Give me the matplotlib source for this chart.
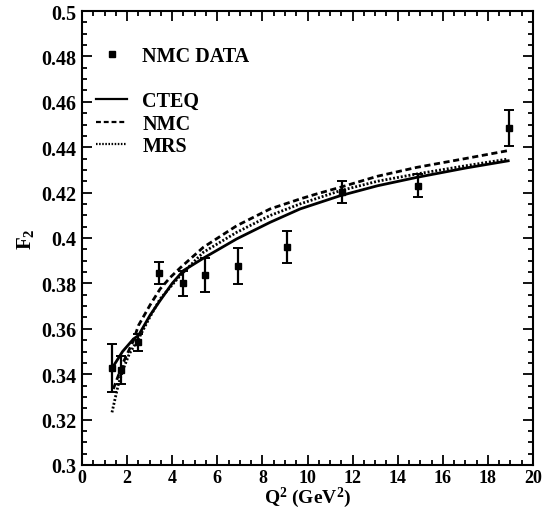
import matplotlib
matplotlib.use("Agg")
import matplotlib.pyplot as plt
from matplotlib.lines import Line2D
from matplotlib.ticker import MultipleLocator

plt.rcParams['font.family'] = ['Liberation Serif', 'DejaVu Serif']
plt.rcParams['font.weight'] = 'bold'
plt.rcParams['mathtext.fontset'] = 'custom'
plt.rcParams['mathtext.rm'] = 'Liberation Serif:bold'
plt.rcParams['mathtext.it'] = 'Liberation Serif:bold'
plt.rcParams['mathtext.bf'] = 'Liberation Serif:bold'

# NMC data
q2_data = [1.33, 1.73, 2.50, 3.43, 4.46, 5.45, 6.90, 9.08, 11.52, 14.92, 18.94]
f2_data = [0.3426, 0.3418, 0.3540, 0.3846, 0.3800, 0.3838, 0.3877, 0.3959, 0.4201, 0.4231, 0.4483]
f2_err = [0.0105, 0.0060, 0.0036, 0.0050, 0.0056, 0.0075, 0.0078, 0.0070, 0.0048, 0.0050, 0.0079]

# Theory curves
q2_cteq = [1.33, 1.8, 2.28, 2.5, 3.02, 3.46, 4.0, 4.49, 5.45, 6.86, 8.34, 9.67, 11.44, 13.1, 14.84, 17.0, 18.9]
f2_cteq = [0.3426, 0.3500, 0.3555, 0.3570, 0.3660, 0.3724, 0.3800, 0.3856, 0.3915, 0.3996, 0.4069, 0.4128, 0.4186, 0.4230, 0.4267, 0.4308, 0.4340]

q2_nmc = [1.39, 1.83, 2.28, 2.5, 3.02, 3.46, 3.9, 4.35, 5.38, 6.86, 8.34, 9.67, 10.4, 11.44, 13.1, 14.84, 17.0, 18.9]
f2_nmc = [0.3335, 0.3452, 0.3548, 0.3614, 0.3705, 0.3775, 0.3825, 0.3868, 0.3959, 0.4054, 0.4128, 0.4172, 0.4194, 0.4223, 0.4272, 0.4311, 0.4350, 0.4385]

q2_mrs = [1.33, 1.6, 1.83, 2.1, 2.5, 3.0, 3.46, 4.35, 5.38, 6.86, 8.34, 9.67, 11.44, 13.1, 14.84, 17.0, 18.9]
f2_mrs = [0.3232, 0.3350, 0.3423, 0.3490, 0.3555, 0.3650, 0.3731, 0.3834, 0.3937, 0.4025, 0.4099, 0.4150, 0.4208, 0.4250, 0.4282, 0.4318, 0.4348]

fig = plt.figure(figsize=(5.52, 5.10), dpi=100)
ax = fig.add_axes([82/552, 44/510, 451/552, 454/510])

ax.plot(q2_cteq, f2_cteq, color='black', lw=2.0, ls='-')
ax.plot(q2_nmc, f2_nmc, color='black', lw=2.0, ls=(0, (2.2, 1.3)))
ax.plot(q2_mrs, f2_mrs, color='black', lw=2.0, ls=(0, (0.7, 0.7)))
ax.errorbar(q2_data, f2_data, yerr=f2_err, fmt='s', color='black', ms=5,
            elinewidth=1.6, capsize=3.5, capthick=1.4)

ax.set_xlim(0, 20)
ax.set_ylim(0.3, 0.5)
ax.xaxis.set_minor_locator(MultipleLocator(0.5))
ax.yaxis.set_minor_locator(MultipleLocator(0.005))
ax.set_xticks([0, 2, 4, 6, 8, 10, 12, 14, 16, 18, 20])
ax.set_xticklabels(['0', '2', '4', '6', '8', '10', '12', '14', '16', '18', '20'])
ax.set_yticks([0.3, 0.32, 0.34, 0.36, 0.38, 0.4, 0.42, 0.44, 0.46, 0.48, 0.5])
ax.set_yticklabels(['0.3', '0.32', '0.34', '0.36', '0.38', '0.4', '0.42', '0.44', '0.46', '0.48', '0.5'])
ax.tick_params(which='both', direction='in', top=True, right=True, width=1.3)
ax.tick_params(axis='x', labelsize=13, pad=3)
ax.tick_params(axis='y', labelsize=14.5, pad=4)
ax.tick_params(which='major', length=7)
ax.tick_params(which='minor', length=3.5)
for lab in ax.get_xticklabels() + ax.get_yticklabels():
    lab.set_fontweight('bold')
for s in ax.spines.values():
    s.set_linewidth(1.5)

ax.set_xlabel('Q$^2$ (GeV$^2$)', fontsize=14, fontweight='bold', labelpad=-1)
ax.set_ylabel('F$_2$', fontsize=15, fontweight='bold', labelpad=4)

handles = [
    Line2D([], [], ls='none', marker='s', color='black', ms=5),
    Line2D([], [], ls='none'),
    Line2D([], [], color='black', lw=1.6, ls='-'),
    Line2D([], [], color='black', lw=1.6, ls=(0, (2.2, 1.3))),
    Line2D([], [], color='black', lw=1.6, ls=(0, (0.7, 0.7))),
]
labels = ['NMC DATA', ' ', 'CTEQ', 'NMC', 'MRS']
leg = ax.legend(handles, labels, loc='upper left', bbox_to_anchor=(0.0, 0.953),
                frameon=False, prop={'family': 'Liberation Serif', 'weight': 'bold', 'size': 14.5},
                handlelength=1.55, handletextpad=0.75, labelspacing=0.12, borderaxespad=0.3)

fig.savefig('out.png', dpi=100)
